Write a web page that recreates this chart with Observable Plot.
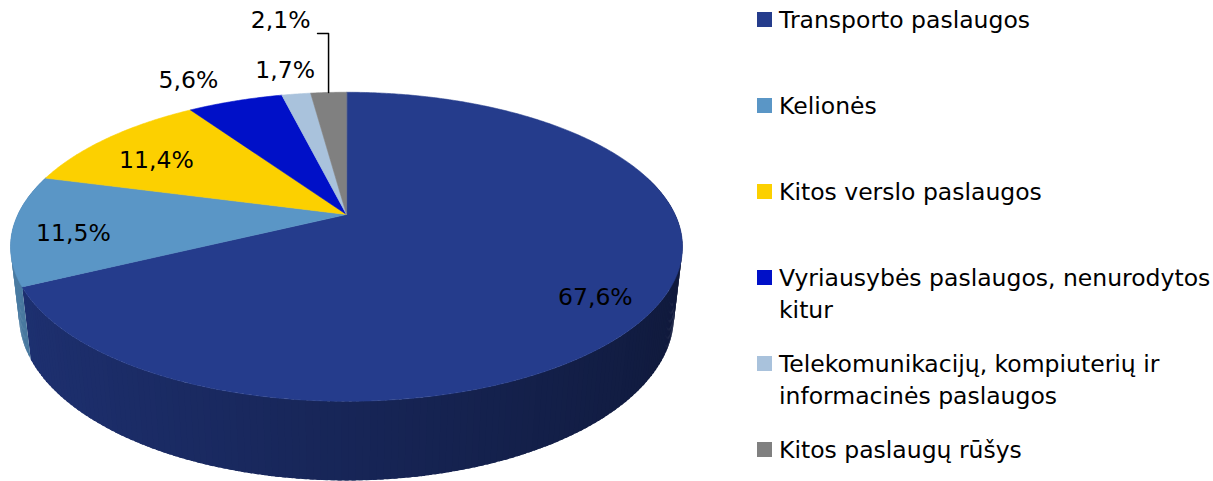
<!DOCTYPE html>
<html><head><meta charset="utf-8">
<script src="https://cdn.jsdelivr.net/npm/d3@7"></script>
<script src="https://cdn.jsdelivr.net/npm/@observablehq/plot@0.6"></script>
<style>
body{margin:0;background:#fff;}
#wrap{position:relative;width:1213px;height:481px;overflow:hidden;font-family:"DejaVu Sans",sans-serif;}
#chart{position:absolute;left:0;top:0;}
#legend{position:absolute;left:757px;top:0;}
.item{position:absolute;left:0;display:flex;align-items:flex-start;font-size:23.5px;line-height:32px;color:#000;white-space:nowrap;}
.sw{width:15px;height:15px;margin-top:8px;margin-right:7px;flex:none;}
</style></head><body><div id="wrap"><div id="chart"></div><div id="legend"></div></div>
<script>
// ---- data ----
const categories = ["Transporto paslaugos", "Kelionės", "Kitos verslo paslaugos", "Vyriausybės paslaugos, nenurodytos kitur", "Telekomunikacijų, kompiuterių ir informacinės paslaugos", "Kitos paslaugų rūšys"];
const values = [67.6, 11.5, 11.4, 5.6, 1.7, 2.1];
const valueLabels = ["67,6%", "11,5%", "11,4%", "5,6%", "1,7%", "2,1%"];
const colors = ["#253c8c", "#5a96c6", "#fcd000", "#0010c8", "#a9c2dc", "#808080"];
const legendLines = [["Transporto paslaugos"], ["Kelionės"], ["Kitos verslo paslaugos"], ["Vyriausybės paslaugos, nenurodytos", "kitur"], ["Telekomunikacijų, kompiuterių ir", "informacinės paslaugos"], ["Kitos paslaugų rūšys"]];

// ---- layout (label placement: radius factor, angle shift in degrees) ----
const labelRadius = [0.845, 0.819, 0.743, 1.27, 1.247, 1.83];
const labelShift = [4.9, -2.9, -3.1, -4.1, -0.2, -4.9];
const leaderIndex = 5;

// ---- 3D camera (perspective) ----
const cam = {cx: 346, cy: 214, k: 1404.6, D: 4.275, s: 0.4497, c: 0.893, h: 0.236};
function proj(X, Z, H) {
  H = H || 0;
  const w = cam.D - Z * cam.c - H * cam.s;
  return [cam.cx + cam.k * X / w, cam.cy + cam.k * (Z * cam.s - H * cam.c) / w];
}
const projection = d3.geoTransform({
  point(x, y, z) { const p = proj(x, y, z); this.stream.point(p[0], p[1]); }
});

const rad = Math.PI / 180;
const pt = (deg, r = 1) => [r * Math.sin(deg * rad), -r * Math.cos(deg * rad)];
const arcs = d3.pie().sort(null).value(d => d)(values).map((a, i) => ({
  i, a0: a.startAngle / rad, a1: a.endAngle / rad
}));

// top faces
const tops = arcs.map(({i, a0, a1}) => {
  const n = Math.max(2, Math.ceil((a1 - a0) / 0.5));
  const ring = [[0, 0]];
  for (let j = 0; j <= n; ++j) ring.push(pt(a0 + (a1 - a0) * j / n));
  ring.push([0, 0]);
  return {type: "Feature", properties: {color: colors[i]}, geometry: {type: "Polygon", coordinates: [ring]}};
});

// visible side wall range (silhouette from the camera)
const zt = 1 / (cam.D * cam.c);
const vis0 = 180 - Math.acos(-zt) / rad; // ~105°
const vis1 = 360 - vis0;
const sides = [];
arcs.forEach(({i, a0, a1}) => {
  const s0 = Math.max(a0, vis0), s1 = Math.min(a1, vis1);
  if (s1 <= s0) return;
  const n = Math.max(1, Math.ceil(s1 - s0));
  for (let j = 0; j < n; ++j) {
    const t0 = s0 + (s1 - s0) * j / n;
    const t1 = Math.min(s1, s0 + (s1 - s0) * (j + 1) / n + 0.6);
    const p0 = pt(t0), p1 = pt(t1);
    const X = Math.sin((t0 + t1) / 2 * rad);
    const f = 0.62 - 0.2 * X;
    const base = d3.rgb(colors[i]);
    const col = d3.rgb(base.r * f, base.g * f, base.b * f).formatHex();
    sides.push({type: "Feature", properties: {color: col}, geometry: {type: "Polygon", coordinates: [[
      [p0[0], p0[1], 0], [p1[0], p1[1], 0], [p1[0], p1[1], -cam.h], [p0[0], p0[1], -cam.h], [p0[0], p0[1], 0]
    ]]}});
  }
});

// labels
const labels = arcs.map(({i, a0, a1}) => {
  const p = pt((a0 + a1) / 2 + labelShift[i], labelRadius[i]);
  return {x: p[0], y: p[1], text: valueLabels[i]};
});

// leader line for the small slice
const la = arcs[leaderIndex];
const rim = pt((la.a0 + la.a1) / 2);
const zE = rim[1] * 1.65;
const xE = rim[0] * (cam.D - zE * cam.c) / (cam.D - rim[1] * cam.c);
const leader = [{x: xE - 0.045, y: zE}, {x: xE, y: zE}, {x: rim[0], y: rim[1]}];

const chart = Plot.plot({
  width: 745, height: 481, margin: 0,
  projection,
  color: {type: "identity"},
  marks: [
    Plot.geo(sides, {fill: d => d.properties.color}),
    Plot.geo(tops, {fill: d => d.properties.color, stroke: d => d.properties.color, strokeWidth: 0.6}),
    Plot.line(leader, {x: "x", y: "y", stroke: "#000", strokeWidth: 1.5}),
    Plot.text(labels, {x: "x", y: "y", text: "text", fontSize: 23.5, fill: "#000", fontFamily: "DejaVu Sans, sans-serif"})
  ]
});
document.getElementById("chart").appendChild(chart);

// legend
const legend = document.getElementById("legend");
legendLines.forEach((lines, i) => {
  const item = document.createElement("div");
  item.className = "item";
  item.style.top = (4 + 86 * i) + "px";
  item.title = categories[i];
  const sw = document.createElement("div");
  sw.className = "sw";
  sw.style.background = colors[i];
  const tx = document.createElement("div");
  tx.innerHTML = lines.join("<br>");
  item.appendChild(sw); item.appendChild(tx);
  legend.appendChild(item);
});
</script></body></html>
